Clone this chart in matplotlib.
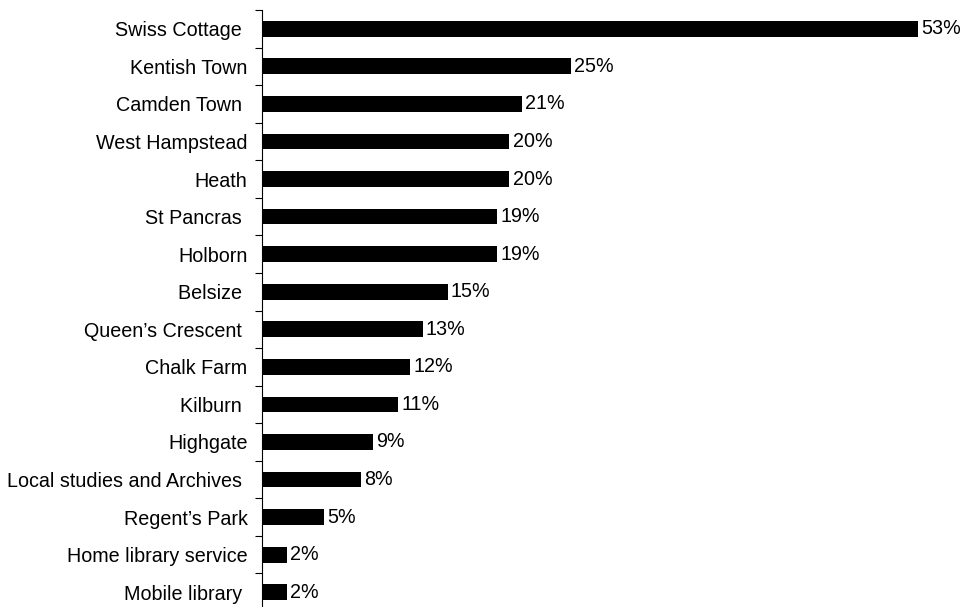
import matplotlib.pyplot as plt

# library usage share by branch
branches = ['Swiss Cottage ', 'Kentish Town', 'Camden Town ', 'West Hampstead', 'Heath',
            'St Pancras ', 'Holborn', 'Belsize ', 'Queen\u2019s Crescent ', 'Chalk Farm',
            'Kilburn ', 'Highgate', 'Local studies and Archives ', 'Regent\u2019s Park',
            'Home library service', 'Mobile library ']
share = [53, 25, 21, 20, 20, 19, 19, 15, 13, 12, 11, 9, 8, 5, 2, 2]

plt.rcParams['font.family'] = ['Liberation Sans', 'DejaVu Sans']
fs = 14.2

fig = plt.figure(figsize=(9.66, 6.07), dpi=100)
ax = fig.add_axes([262 / 966, -4 / 607, 693 / 966, 601 / 607])

pos = list(range(len(branches)))
ax.barh(pos, share, height=0.42, color='black')
for y, v in zip(pos, share):
    ax.text(v + 0.25, y, f'{v}%', va='center', ha='left', fontsize=fs)

ax.set_xlim(0, 56)
ax.set_ylim(len(branches) - 0.5, -0.5)
ax.set_xticks([])
ax.set_yticks([p - 0.5 for p in pos] + [len(branches) - 0.5])
ax.set_yticklabels([])
ax.set_yticks(pos, minor=True)
ax.set_yticklabels(branches, minor=True, fontsize=fs)
ax.tick_params(axis='y', which='major', length=5, width=0.8, direction='out')
ax.tick_params(axis='y', which='minor', length=0, pad=10.5)
for s in ['top', 'right', 'bottom']:
    ax.spines[s].set_visible(False)
ax.spines['left'].set_linewidth(0.8)

fig.savefig('out.png', dpi=100)
